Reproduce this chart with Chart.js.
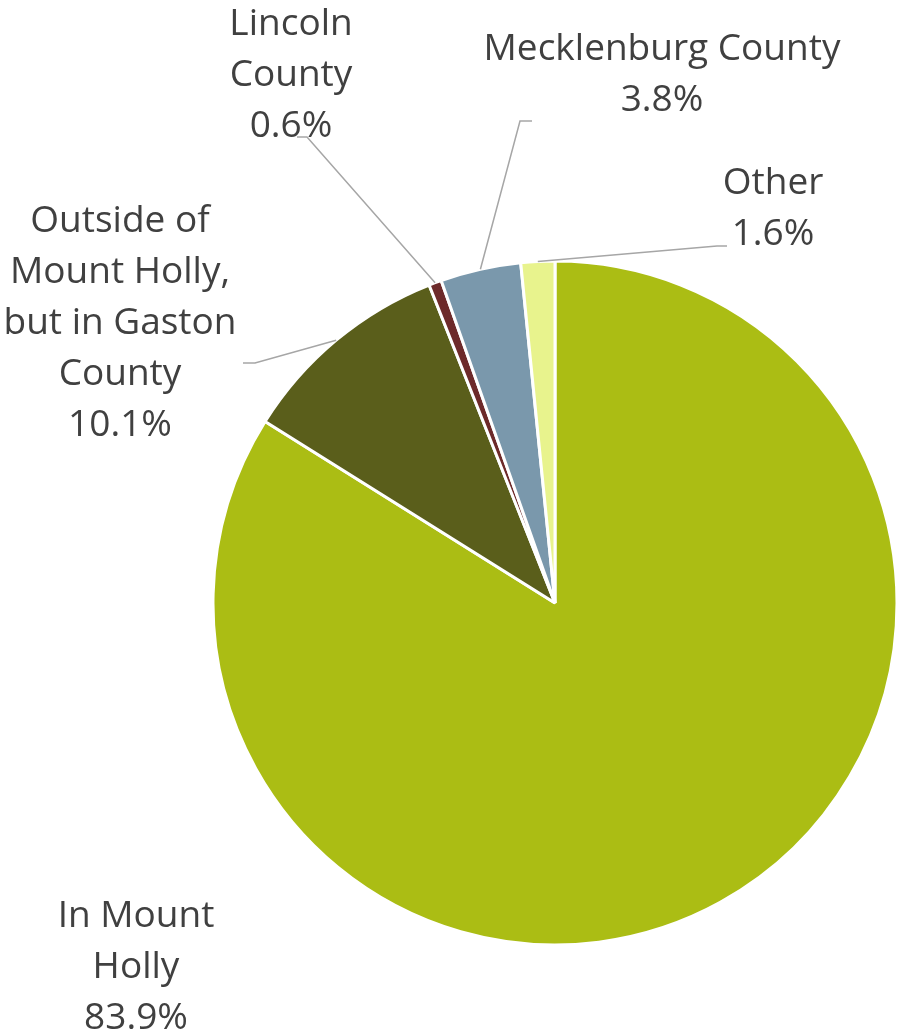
<!DOCTYPE html>
<html>
<head>
<meta charset="utf-8">
<script src="https://cdn.jsdelivr.net/npm/chart.js@4/dist/chart.umd.min.js"></script>
<style>
  html, body { margin: 0; padding: 0; background: #fff; }
  #wrap { width: 897px; height: 1035px; }
</style>
</head>
<body>
<div id="wrap"><canvas id="chart" width="897" height="1035"></canvas></div>
<script>
// chart data
const categories = [
  "In Mount Holly",
  "Outside of Mount Holly, but in Gaston County",
  "Lincoln County",
  "Mecklenburg County",
  "Other"
];
const shares = [83.9, 10.1, 0.6, 3.8, 1.6];
const sliceColors = ["#abbd14", "#5a5e1b", "#6d2a2a", "#7a98ac", "#e8f38d"];

// how each category label is wrapped on the chart
const labelLines = [
  ["In Mount", "Holly"],
  ["Outside of", "Mount Holly,", "but in Gaston", "County"],
  ["Lincoln", "County"],
  ["Mecklenburg County"],
  ["Other"]
];

// draws the data labels and the leader lines, like the Excel original
const pieLabels = {
  id: "pieLabels",
  afterDraw(chart, args, opts) {
    const ctx = chart.ctx;
    const meta = chart.getDatasetMeta(0);
    ctx.save();
    meta.data.forEach((arc, i) => {
      const leader = opts.leaders[i];
      if (leader) {
        const mid = (arc.startAngle + arc.endAngle) / 2;
        const sx = arc.x + Math.cos(mid) * arc.outerRadius;
        const sy = arc.y + Math.sin(mid) * arc.outerRadius;
        ctx.beginPath();
        ctx.moveTo(sx, sy);
        leader.forEach(p => ctx.lineTo(p[0], p[1]));
        ctx.strokeStyle = "#a6a6a6";
        ctx.lineWidth = 1.5;
        ctx.stroke();
      }
      const pos = opts.positions[i];
      const lines = labelLines[i].concat([shares[i].toFixed(1) + "%"]);
      ctx.font = '37px "Open Sans"';
      ctx.fillStyle = "#404040";
      ctx.textAlign = "center";
      ctx.textBaseline = "alphabetic";
      lines.forEach((t, k) => ctx.fillText(t, pos.x, pos.y + k * opts.lineHeight));
    });
    ctx.restore();
  }
};

new Chart(document.getElementById("chart"), {
  type: "pie",
  data: {
    labels: categories,
    datasets: [{
      data: shares,
      backgroundColor: sliceColors,
      borderColor: "#ffffff",
      borderWidth: 3,
      hoverOffset: 0
    }]
  },
  options: {
    responsive: false,
    animation: false,
    radius: 342,
    layout: { padding: { left: 214, right: 1, top: 262, bottom: 91 } },
    plugins: {
      legend: { display: false },
      tooltip: { enabled: false },
      pieLabels: {
        lineHeight: 51,
        positions: [
          { x: 136, y: 927 },
          { x: 120, y: 232 },
          { x: 291, y: 35 },
          { x: 662, y: 60 },
          { x: 773, y: 194 }
        ],
        leaders: [
          null,
          [[255, 363], [243, 363]],
          [[307, 137], [297, 137]],
          [[520, 121], [532, 121]],
          [[717, 246], [727, 246]]
        ]
      }
    }
  },
  plugins: [pieLabels]
});
</script>
</body>
</html>
